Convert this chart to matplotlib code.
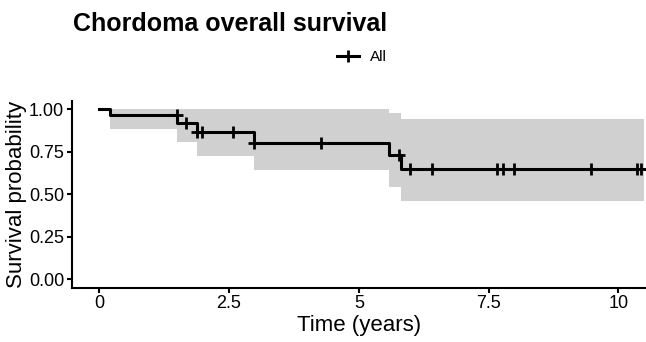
import matplotlib.pyplot as plt
import numpy as np

plt.rcParams['font.family'] = ['Liberation Sans', 'DejaVu Sans']

# Kaplan-Meier steps
times = [0, 0.2, 1.5, 1.88, 2.98, 5.58, 5.81]
surv = [1.0, 0.966, 0.917, 0.864, 0.802, 0.73, 0.651]
upper = [1.0, 1.0, 1.0, 1.0, 1.0, 0.976, 0.941]
lower = [1.0, 0.882, 0.805, 0.728, 0.641, 0.542, 0.463]
end_time = 10.5

# censored times
censor = [1.49, 1.68, 1.88, 1.98, 2.58, 2.98, 4.28, 5.77, 5.99, 6.40,
          7.67, 7.77, 7.98, 9.48, 10.35, 10.43]

xticks = [0, 2.5, 5, 7.5, 10]
xticklabels = ['0', '2.5', '5', '7.5', '10']
yticks = [0, 0.25, 0.5, 0.75, 1.0]
yticklabels = ['0.00', '0.25', '0.50', '0.75', '1.00']

fig = plt.figure(figsize=(6.46, 3.42), dpi=100)
ax = fig.add_axes([0.111, 0.159, 0.889, 0.546])

t = np.array(times + [end_time])
s = np.array(surv + [surv[-1]])
up = np.array(upper + [upper[-1]])
lo = np.array(lower + [lower[-1]])

ax.fill_between(t, lo, up, step='post', color='#d0d0d0', linewidth=0)
ax.step(t, s, where='post', color='black', linewidth=2.2)

cs = [surv[np.searchsorted(times, c, side='right') - 1] for c in censor]
ax.plot(censor, cs, linestyle='none', marker='+', color='black',
        markersize=8, markeredgewidth=2)

ax.set_xlim(-0.53, 10.53)
ax.set_ylim(-0.05, 1.05)
ax.set_xticks(xticks)
ax.set_xticklabels(xticklabels)
ax.set_yticks(yticks)
ax.set_yticklabels(yticklabels)

for side in ['top', 'right']:
    ax.spines[side].set_visible(False)
for side in ['left', 'bottom']:
    ax.spines[side].set_linewidth(1.5)
ax.tick_params(width=1.5, length=3.5, labelsize=13, colors='black', pad=2)

ax.set_xlabel('Time (years)', fontsize=16, labelpad=2)
ax.set_ylabel('Survival probability', fontsize=16, labelpad=1)

fig.text(0.113, 0.93, 'Chordoma overall survival', fontsize=18,
         fontweight='bold', va='center', ha='left')

h, = ax.plot([], [], color='black', linewidth=2.2, marker='+',
             markersize=8, markeredgewidth=2)
fig.legend([h], ['All'], loc='center', bbox_to_anchor=(0.56, 0.833),
           frameon=False, fontsize=11, handlelength=1.5, handletextpad=0.7)

plt.savefig('out.png', dpi=100)
